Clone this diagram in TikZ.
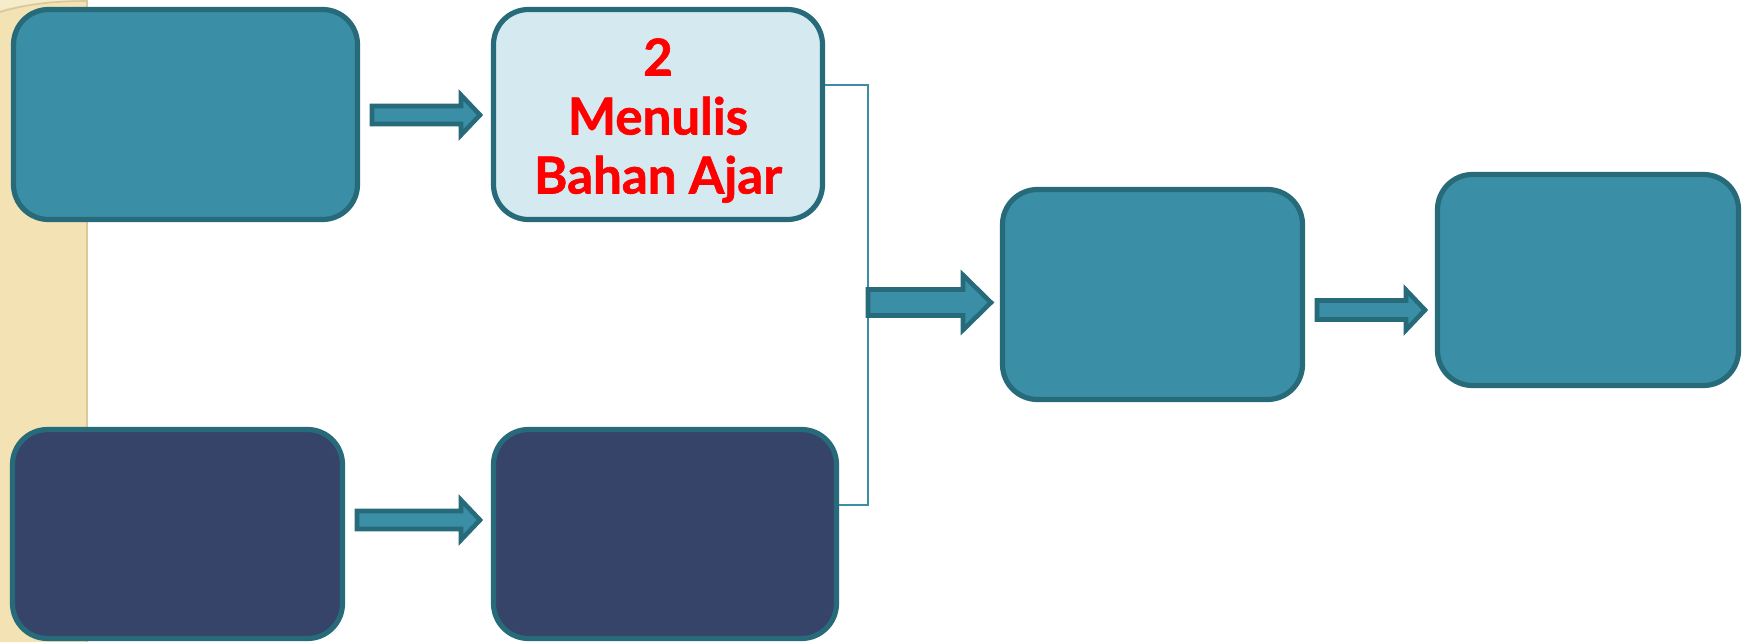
\documentclass[tikz,border=0pt]{standalone}
\usepackage{fontspec}
\newfontfamily\labelfont{Lato}[BoldFeatures={FakeBold=1.2}]
\definecolor{teal}{HTML}{3A8FA6}
\definecolor{tealdark}{HTML}{276A7A}
\definecolor{navy}{HTML}{354468}
\definecolor{pale}{HTML}{D5EAF0}
\definecolor{beige}{HTML}{F2E2B4}
\definecolor{beigedark}{HTML}{D8C89C}
\definecolor{labelred}{HTML}{FF0000}
\newcommand\blkarrow[7]{% name, x1, x2, xtip, yc, shaft half, head half
  \draw[blockarrow] (#2,#5-#6) -- (#3,#5-#6) -- (#3,#5-#7) -- (#4,#5) -- (#3,#5+#7) -- (#3,#5+#6) -- (#2,#5+#6) -- cycle;
  \coordinate (#1) at (#4,#5);}
\tikzset{
  box/.style={draw=tealdark, line width=2.6pt, rounded corners=17.5pt, inner sep=0pt},
  tealbox/.style={box, fill=teal},
  navybox/.style={box, fill=navy},
  palebox/.style={box, fill=pale},
  blockarrow/.style={draw=tealdark, fill=teal, line width=2.3pt, line join=miter},
  conn/.style={draw=teal, line width=0.8pt},
  lbl/.style={text=labelred, font=\labelfont\bfseries\fontsize{25.5}{29.5}\selectfont, align=center, inner sep=0pt}
}
\begin{document}
\begin{tikzpicture}[x=0.5pt, y=-0.5pt]
\useasboundingbox (0,0) rectangle (1750,642);
% background strip
\fill[beige] (0,0) rectangle (88,642);
\draw[beigedark, line width=1pt] (87,0) -- (87,642);
\fill[beige!70!white] (0,0) -- (0,10) .. controls (30,2) and (60,0) .. (88,0) -- cycle;
\draw[beigedark, line width=0.8pt] (0,12) .. controls (30,3) and (60,1) .. (88,1);
% boxes
\node[tealbox, minimum width=172pt, minimum height=105pt] (b1) at (185.5,114.5) {};
\node[palebox, minimum width=164.5pt, minimum height=105pt] (b2) at (658,114.5) {};
\node[lbl] (t2) at ([yshift=-3pt]b2.center) {2\\Menulis\\Bahan Ajar};
\node[navybox, minimum width=165pt, minimum height=104.5pt] (b3) at (177.5,534) {};
\node[navybox, minimum width=171.5pt, minimum height=104.5pt] (b4) at (665,534) {};
\node[tealbox, minimum width=150pt, minimum height=105pt] (b5) at (1152.5,294.5) {};
\node[tealbox, minimum width=150.5pt, minimum height=105.5pt] (b6) at (1588,280) {};
% connector
\coordinate (j1) at (868,85);
\coordinate (j2) at (868,505);
\draw[conn] (b2.east |- j1) -- (j1) -- (j2) -- (b4.east |- j2);
% block arrows
\blkarrow{a1}{372}{461}{480}{115}{9}{20}
\blkarrow{a2}{357}{461}{480}{520}{9}{20}
\blkarrow{a3}{868}{963}{991}{302.5}{13}{27.5}
\blkarrow{a4}{1317}{1406}{1425}{310}{9.5}{20}
\end{tikzpicture}
\end{document}
